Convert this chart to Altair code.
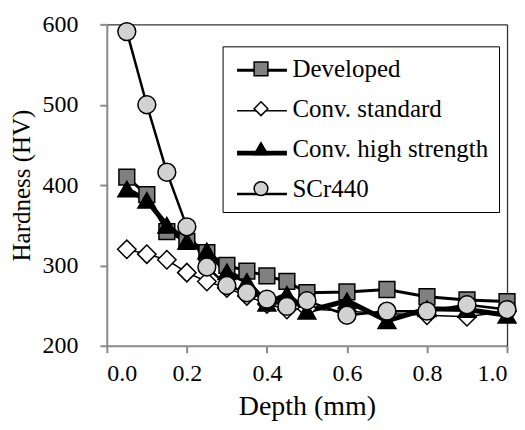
import altair as alt
import pandas as pd

depth = [0.05, 0.1, 0.15, 0.2, 0.25, 0.3, 0.35, 0.4, 0.45, 0.5, 0.6, 0.7, 0.8, 0.9, 1.0]
developed = [410, 388, 342, 330, 316, 300, 293, 287, 280, 266, 267, 270, 261, 257, 255]
conv_standard = [320, 314, 307, 291, 280, 272, 262, 252, 245, 246, 243, 240, 238, 236, 243]
conv_high = [395, 381, 350, 330, 318, 292, 280, 253, 264, 243, 256, 231, 246, 245, 238]
scr440 = [591, 500, 416, 348, 298, 275, 266, 258, 249, 256, 238, 243, 243, 251, 245]

series_names = ["Developed", "Conv. standard", "Conv. high strength", "SCr440"]
series_values = [developed, conv_standard, conv_high, scr440]
shapes = ["square", "diamond", "triangle-up", "circle"]
fills = ["#808080", "#ffffff", "#000000", "#d2d2d2"]
marker_sizes = [250, 340, 320, 320]
line_widths = [3.0, 1.5, 5.0, 2.5]
x_ticks = [0.0, 0.2, 0.4, 0.6, 0.8, 1.0]
y_ticks = [200, 300, 400, 500, 600]

rows = []
for name, vals, lw, ms in zip(series_names, series_values, line_widths, marker_sizes):
    for d, v in zip(depth, vals):
        rows.append({"depth": d, "hardness": v, "series": name, "lw": lw, "msize": ms})
df = pd.DataFrame(rows)

FONT = "Liberation Serif"
W, H = 401, 322
GRAY = "#8a8a8a"

x_main = alt.X(
    "depth:Q",
    scale=alt.Scale(domain=[0, 1], nice=False, zero=False),
    axis=alt.Axis(title="Depth (mm)", values=x_ticks, format=".1f", orient="bottom",
                  domainColor=GRAY, domainWidth=2, tickColor=GRAY, tickWidth=2, tickSize=7,
                  labelFont=FONT, labelFontSize=24, labelColor="black", labelPadding=9,
                  titleFont=FONT, titleFontSize=28, titleFontWeight="normal", titleColor="black",
                  titleY=61, titleBaseline="middle", grid=False),
)
y_main = alt.Y(
    "hardness:Q",
    scale=alt.Scale(domain=[200, 600], nice=False, zero=False),
    axis=alt.Axis(title="Hardness (HV)", values=y_ticks, orient="left",
                  domainColor=GRAY, domainWidth=2, tickColor=GRAY, tickWidth=2, tickSize=7,
                  labelFont=FONT, labelFontSize=24, labelColor="black", labelPadding=22,
                  titleFont=FONT, titleFontSize=25, titleFontWeight="normal", titleColor="black",
                  titleX=-77, titleBaseline="alphabetic", grid=False),
)
x_top = alt.X("depth:Q", axis=alt.Axis(orient="top", labels=False, ticks=False, title=None,
                                       domainColor="#333333", domainWidth=1.3, grid=False))
y_right = alt.Y("hardness:Q", axis=alt.Axis(orient="right", labels=False, ticks=False, title=None,
                                            domainColor="#333333", domainWidth=1.3, grid=False))

# legend line sample: a horizontal stroke drawn off-centre inside the symbol slot
line_symbol = "M-0.84,0H3.16"

line_legend = alt.Legend(
    orient="none", legendX=116, legendY=22, title=None, symbolType=line_symbol,
    symbolSize=625, symbolStrokeColor="black", labelFontSize=25,
    labelOpacity=0, labelOffset=0, rowPadding=14, padding=10,
    values=line_widths, labelExpr="''",
)
shape_legend = alt.Legend(
    orient="none", legendX=116, legendY=22, title=None, symbolSize=190,
    symbolStrokeColor="black", symbolStrokeWidth=1.5, symbolOffset=16,
    labelFont=FONT, labelFontSize=25, labelColor="black", labelOffset=19,
    labelLimit=400, rowPadding=14, padding=10, strokeColor="black",
)

lines = alt.Chart(df).mark_line(color="black").encode(
    x=x_main,
    y=y_main,
    detail="series:N",
    strokeWidth=alt.StrokeWidth(
        "lw:Q",
        scale=alt.Scale(domain=[0, 10], range=[0, 10], zero=True),
        legend=line_legend,
    ),
)

points = alt.Chart(df).mark_point(filled=True, strokeWidth=1.5, opacity=1).encode(
    x=x_top,
    y=y_right,
    shape=alt.Shape("series:N", scale=alt.Scale(domain=series_names, range=shapes),
                    sort=series_names, legend=shape_legend),
    fill=alt.Fill("series:N", scale=alt.Scale(domain=series_names, range=fills),
                  sort=series_names, legend=shape_legend),
    stroke=alt.Stroke("series:N", scale=alt.Scale(domain=series_names, range=["#000000"] * 4),
                      sort=series_names, legend=shape_legend),
    size=alt.Size("msize:Q", scale=None),
)

chart = (
    alt.layer(lines, points)
    .resolve_axis(x="independent", y="independent")
    .properties(width=W, height=H, autosize=alt.AutoSizeParams(type="none"),
                padding={"left": 99, "top": 16, "right": 10, "bottom": 76})
    .configure(font=FONT)
    .configure_view(stroke=None)
    .configure_axis(labelFont=FONT, titleFont=FONT)
    .configure_legend(labelFont=FONT)
)

chart.save("out.html", embed_options={"renderer": "svg", "actions": False})
